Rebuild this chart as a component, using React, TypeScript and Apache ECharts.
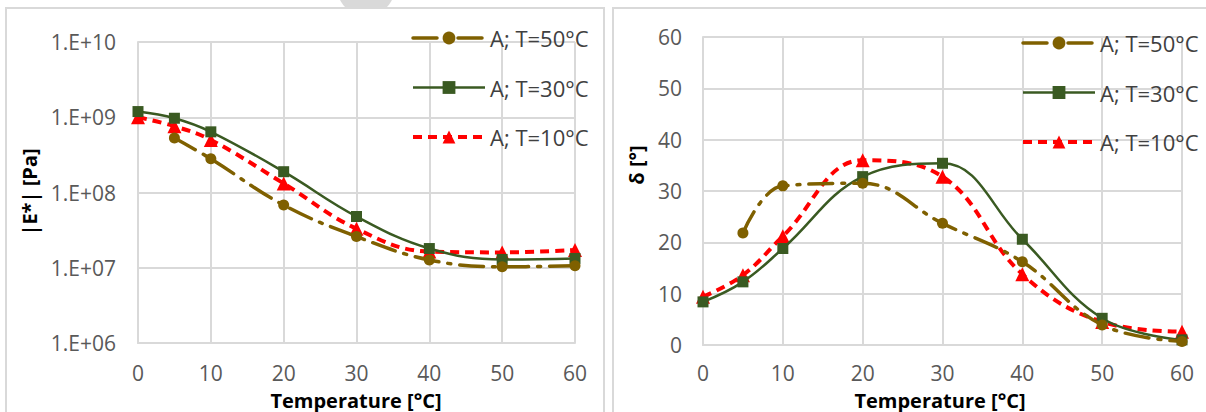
import React, { useEffect, useRef } from "react";
import * as echarts from "echarts";

const tempsAll = [0, 5, 10, 20, 30, 40, 50, 60];
const temps50 = [5, 10, 20, 30, 40, 50, 60];

const seriesNames = ["A; T=50°C", "A; T=30°C", "A; T=10°C"];

// |E*| [Pa]
const modulus50 = [5.3e8, 2.8e8, 6.8e7, 2.6e7, 1.27e7, 1.03e7, 1.06e7];
const modulus30 = [1.19e9, 9.7e8, 6.4e8, 1.89e8, 4.8e7, 1.8e7, 1.29e7, 1.33e7];
const modulus10 = [1.0e9, 7.6e8, 5.0e8, 1.32e8, 3.3e7, 1.64e7, 1.6e7, 1.72e7];

// delta [°]
const phase50 = [21.8, 31.0, 31.5, 23.7, 16.2, 3.9, 0.7];
const phase30 = [8.4, 12.3, 18.8, 32.8, 35.4, 20.6, 5.2, 1.0];
const phase10 = [9.4, 13.6, 21.2, 36.0, 32.8, 13.8, 4.5, 2.6];

const xTicks = [0, 10, 20, 30, 40, 50, 60];

const OLIVE = "#7F6000";
const GREEN = "#3A5A22";
const RED = "#FF0000";
const GRID = "#D9D9D9";
const LABEL = "#595959";
const FONT = "Open Sans";

const pairs = (xs: number[], ys: number[]) => xs.map((x, i) => [x, ys[i]]);

export default function App() {
  const ref = useRef<HTMLDivElement>(null);
  useEffect(() => {
    if (!ref.current) return;
    const chart = echarts.init(ref.current, undefined, { renderer: "svg" });

    const xAxisBase = (gridIndex: number, margin: number) => ({
      type: "value",
      gridIndex,
      min: 0,
      max: 60,
      interval: 10,
      axisLine: { show: true, lineStyle: { color: GRID, width: 2 } },
      axisTick: { show: false },
      splitLine: { show: true, lineStyle: { color: GRID, width: 2 } },
      axisLabel: {
        color: LABEL,
        fontFamily: FONT,
        fontSize: 21,
        margin,
        formatter: (v: number) => (xTicks.includes(v) ? String(v) : ""),
      },
    });

    const styles = [
      {
        color: OLIVE,
        symbol: "circle",
        symbolSize: 11,
        lineStyle: { color: OLIVE, width: 3.5, type: [24, 9, 3, 9], cap: "round" },
      },
      {
        color: GREEN,
        symbol: "rect",
        symbolSize: 11,
        lineStyle: { color: GREEN, width: 2.5, type: "solid" },
      },
      {
        color: RED,
        symbol: "triangle",
        symbolSize: 14,
        lineStyle: { color: RED, width: 4, type: [9, 6] },
      },
    ];

    const mk = (name: string, xs: number[], ys: number[], idx: number, kind: number) => {
      const s = styles[kind];
      return {
        name,
        type: "line",
        xAxisIndex: idx,
        yAxisIndex: idx,
        data: pairs(xs, ys),
        smooth: 0.4,
        showSymbol: true,
        symbol: s.symbol,
        symbolSize: s.symbolSize,
        itemStyle: { color: s.color },
        lineStyle: s.lineStyle,
        z: 3 - kind,
      };
    };

    const legendBase = (left: number, top: number) => ({
      orient: "vertical",
      left,
      top,
      itemWidth: 72,
      itemHeight: 16,
      itemGap: 27.5,
      data: seriesNames.map((n, i) => ({
        name: n,
        lineStyle: { width: styles[i].lineStyle.width, type: styles[i].lineStyle.type },
      })),
      lineStyle: { width: "inherit" },
      textStyle: { color: "#404040", fontFamily: FONT, fontSize: 22, padding: [0, 0, 0, 0] },
      selectedMode: false,
    });

    const titleText = (x: number, y: number, text: string, rotate = false) => ({
      type: "text",
      x,
      y,
      rotation: rotate ? Math.PI / 2 : 0,
      style: {
        text,
        fill: "#000000",
        font: `bold 20px "${FONT}"`,
        align: "center",
        verticalAlign: "middle",
      },
      z: 10,
    });

    chart.setOption({
      animation: false,
      backgroundColor: "#ffffff",
      grid: [
        { left: 138, right: 631, top: 42, bottom: 69 },
        { left: 703, right: 24, top: 37, bottom: 67 },
      ],
      xAxis: [xAxisBase(0, 19), xAxisBase(1, 17)],
      yAxis: [
        {
          type: "log",
          gridIndex: 0,
          logBase: 10,
          min: 1e6,
          max: 1e10,
          splitNumber: 4,
          axisLine: { show: true, lineStyle: { color: GRID, width: 2 } },
          axisTick: { show: false },
          splitLine: { show: true, lineStyle: { color: GRID, width: 2 } },
          axisLabel: {
            color: LABEL,
            fontFamily: FONT,
            fontSize: 21,
            margin: 22,
            formatter: (v: number) => {
              const e = Math.round(Math.log10(v));
              return "1.E+" + String(e).padStart(2, "0");
            },
          },
        },
        {
          type: "value",
          gridIndex: 1,
          min: 0,
          max: 60,
          interval: 10,
          axisLine: { show: true, lineStyle: { color: GRID, width: 2 } },
          axisTick: { show: false },
          splitLine: { show: true, lineStyle: { color: GRID, width: 2 } },
          axisLabel: { color: LABEL, fontFamily: FONT, fontSize: 21, margin: 21 },
        },
      ],
      legend: [legendBase(406, 22), legendBase(1016, 27)],
      series: [
        mk(seriesNames[0], temps50, modulus50, 0, 0),
        mk(seriesNames[1], tempsAll, modulus30, 0, 1),
        mk(seriesNames[2], tempsAll, modulus10, 0, 2),
        mk(seriesNames[0], temps50, phase50, 1, 0),
        mk(seriesNames[1], tempsAll, phase30, 1, 1),
        mk(seriesNames[2], tempsAll, phase10, 1, 2),
      ],
      graphic: [
        {
          type: "circle",
          shape: { cx: 366, cy: -13, r: 29 },
          style: { fill: "#D9D9D9" },
          z: 0,
        },
        {
          type: "rect",
          shape: { x: 330, y: 9, width: 72, height: 20 },
          style: { fill: "#ffffff" },
          z: 1,
        },
        {
          type: "rect",
          shape: { x: 6, y: 8, width: 598, height: 420 },
          style: { fill: "none", stroke: GRID, lineWidth: 2 },
          z: 2,
        },
        {
          type: "rect",
          shape: { x: 613, y: 8, width: 610, height: 420 },
          style: { fill: "none", stroke: GRID, lineWidth: 2 },
          z: 2,
        },
        titleText(29, 192, "|E*| [Pa]", true),
        titleText(636, 165, "δ [°]", true),
        titleText(356, 400, "Temperature [°C]"),
        titleText(940, 400, "Temperature [°C]"),
      ],
    });
    return () => chart.dispose();
  }, []);

  return <div ref={ref} style={{ width: 1206, height: 412, position: "absolute", left: 0, top: 0 }} />;
}
